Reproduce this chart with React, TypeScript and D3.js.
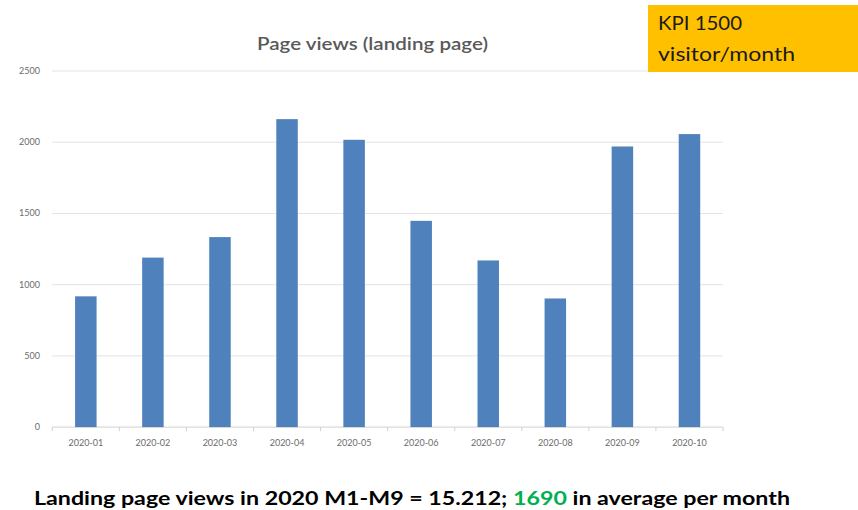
import React from "react";
import * as d3 from "d3";

const categories = ["2020-01","2020-02","2020-03","2020-04","2020-05","2020-06","2020-07","2020-08","2020-09","2020-10"];
const pageViews = [918, 1190, 1334, 2162, 2017, 1448, 1170, 903, 1970, 2057];
const yTicks = [0, 500, 1000, 1500, 2000, 2500];

const W = 858, H = 510;
const plotLeft = 52.3, plotRight = 723, plotTop = 71, plotBottom = 427.1;
const font = "Lato, 'Open Sans', 'Liberation Sans', sans-serif";

export default function App() {
  const xStep = d3.scaleBand<string>().domain(categories).range([plotLeft, plotRight]);
  const y = d3.scaleLinear().domain([0, 2500]).range([plotBottom, plotTop]);
  const bw = 21.5;
  return (
    <svg width={W} height={H} style={{ position: "absolute", left: 0, top: 0, background: "#fff" }}>
      <rect x={0} y={0} width={W} height={H} fill="#fff" />
      {yTicks.map((t) => (
        <g key={t}>
          <line x1={plotLeft} x2={plotRight} y1={y(t)} y2={y(t)} stroke={t === 0 ? "#d0d0d0" : "#e3e3e3"} strokeWidth={1} />
          <text x={40} y={y(t) + 3} textAnchor="end" fontSize={9} fill="#6b6b6b" fontFamily={font}>{t}</text>
        </g>
      ))}
      {categories.map((c) => (
        <line key={"tk" + c} x1={xStep(c)!} x2={xStep(c)!} y1={plotBottom} y2={plotBottom + 4} stroke="#d0d0d0" />
      ))}
      <line x1={plotRight} x2={plotRight} y1={plotBottom} y2={plotBottom + 4} stroke="#d0d0d0" />
      {categories.map((c, i) => {
        const cx = xStep(c)! + xStep.bandwidth() / 2;
        return (
          <g key={c}>
            <rect x={cx - bw / 2} y={y(pageViews[i])} width={bw} height={plotBottom - y(pageViews[i])} fill="#4F81BD" />
            <text x={cx} y={446} textAnchor="middle" fontSize={9} fill="#6b6b6b" fontFamily={font}>{c}</text>
          </g>
        );
      })}
      <text x={257} y={49.5} fontSize={18} fontWeight={600} fill="#595959" fontFamily={font} textLength={231} lengthAdjust="spacingAndGlyphs">Page views (landing page)</text>
      <rect x={648} y={5} width={210} height={67} fill="#FFC000" />
      <text x={658} y={29.5} fontSize={20} fill="#1a1a1a" fontFamily={font} textLength={84} lengthAdjust="spacingAndGlyphs">KPI 1500</text>
      <text x={658} y={61} fontSize={20} fill="#1a1a1a" fontFamily={font} textLength={137} lengthAdjust="spacingAndGlyphs">visitor/month</text>
      <text x={34} y={505} fontSize={19} fontWeight="bold" fill="#000" fontFamily={font} textLength={756} lengthAdjust="spacingAndGlyphs">
        Landing page views in 2020 M1-M9 = 15.212; <tspan fill="#00B050">1690</tspan> in average per month
      </text>
    </svg>
  );
}
